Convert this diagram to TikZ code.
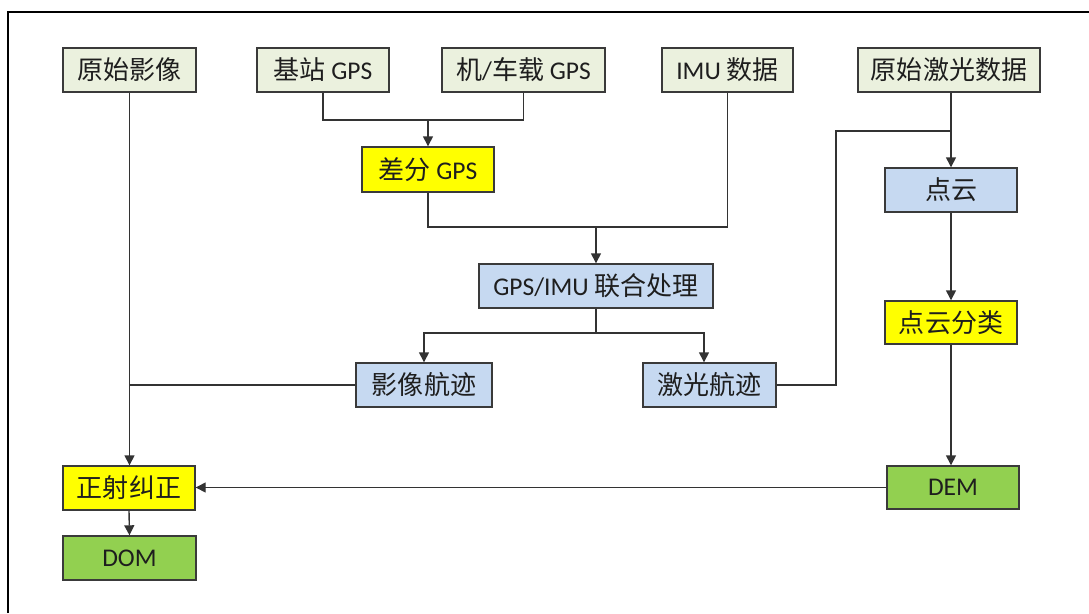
\documentclass[tikz,border=0pt]{standalone}
\usepackage{fontspec}
\setmainfont{Carlito}
\newfontfamily\cjk[Scale=1.02]{Noto Sans CJK SC}
\newcommand\zh[1]{{\cjk #1}}
\usetikzlibrary{arrows.meta}

\definecolor{srcfill}{HTML}{EBF1DE}
\definecolor{midfill}{HTML}{C6D9F1}
\definecolor{keyfill}{HTML}{FFFF00}
\definecolor{prodfill}{HTML}{92D050}
\definecolor{boxline}{HTML}{3A3A3A}
\definecolor{linecol}{HTML}{333333}
\definecolor{txt}{HTML}{1E1E1E}

\tikzset{
  box/.style={draw=boxline, line width=1.4pt, minimum height=44pt, inner sep=0pt,
              text=txt, font=\fontsize{25.5}{30}\selectfont},
  srcbox/.style={box, fill=srcfill},
  midbox/.style={box, fill=midfill},
  keybox/.style={box, fill=keyfill},
  prodbox/.style={box, fill=prodfill},
  link/.style={draw=linecol, line width=1.4pt},
  arr/.style={link, -{Triangle[length=10pt,width=10pt]}},
}

\begin{document}
\begin{tikzpicture}[x=1pt,y=-1pt]
  \useasboundingbox (0,0) rectangle (1089,613);
  \fill[white] (0,0) rectangle (1089,613);
  % outer frame
  \draw[line width=2pt, black] (8,613) -- (8,12) -- (1089,12);

  % input data
  \node[srcbox, minimum width=133pt] (raw)   at (129.5,70) {\zh{原始影像}};
  \node[srcbox, minimum width=132pt] (base)  at (323,70)   {\zh{基站} GPS};
  \node[srcbox, minimum width=163pt] (rover) at (523.5,70) {\zh{机}/\zh{车载} GPS};
  \node[srcbox, minimum width=131pt] (imu)   at (727.5,70) {IMU \zh{数据}};
  \node[srcbox, minimum width=182pt] (laser) at (949,70)   {\zh{原始激光数据}};

  % processing
  \node[keybox, minimum width=132pt, minimum height=45pt] (dgps) at (428,169.5) {\zh{差分} GPS};
  \node[midbox, minimum width=132pt] (pc)    at (951,190)   {\zh{点云}};
  \node[midbox, minimum width=234pt] (gi)    at (596,286)   {GPS/IMU \zh{联合处理}};
  \node[midbox, minimum width=136pt] (itraj) at (424,385)   {\zh{影像航迹}};
  \node[midbox, minimum width=133pt] (ltraj) at (709.5,385) {\zh{激光航迹}};
  \node[keybox, minimum width=132pt, minimum height=43pt] (pcc) at (951,322.5) {\zh{点云分类}};

  % products
  \node[prodbox, minimum width=132pt, minimum height=43pt] (dem) at (953,487.5) {DEM};
  \node[keybox, minimum width=132pt] (ortho) at (129,488) {\zh{正射纠正}};
  \node[prodbox, minimum width=133pt] (dom)  at (129.5,558) {DOM};

  % differential GPS
  \coordinate (j1) at (428,120);
  \draw[link] (base.south) |- (j1);
  \draw[link] (rover.south) |- (j1);
  \draw[arr] (j1) -- (dgps.north);

  % GPS/IMU integration
  \coordinate (j2) at (596,227);
  \draw[link] (dgps.south) |- (j2);
  \draw[link] (imu.south) |- (j2);
  \draw[arr] (j2) -- (gi.north);

  % trajectories
  \coordinate (j3) at (596,333);
  \draw[link] (gi.south) -- (j3);
  \draw[arr] (j3) -| (itraj.north);
  \draw[arr] (j3) -| ([xshift=-5.5pt]ltraj.north);

  % image branch
  \draw[arr] (raw.south) -- (raw.south |- ortho.north);
  \draw[link] (itraj.west) -- (itraj.west -| raw.south);

  % laser branch
  \coordinate (k1) at (836,131);
  \coordinate (j4) at (951,131);
  \draw[link] (ltraj.east) -| (k1) -- (j4);
  \draw[arr] (laser.south -| pc.north) -- (pc.north);
  \draw[arr] (pc.south) -- (pcc.north);
  \draw[arr] (pcc.south) -- (pcc.south |- dem.north);

  % ortho-rectification
  \draw[arr] (dem.west) -- (dem.west -| ortho.east);
  \draw[arr] (ortho.south) -- (dom.north);
\end{tikzpicture}
\end{document}
